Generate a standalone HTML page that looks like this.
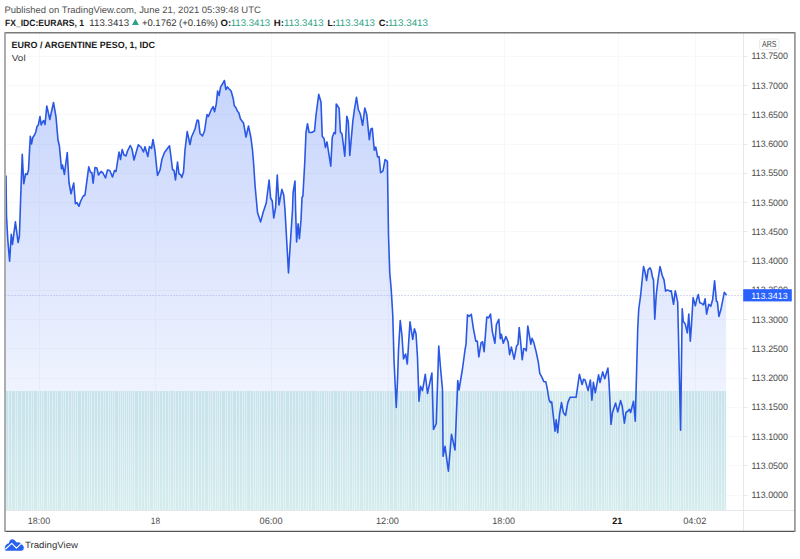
<!DOCTYPE html>
<html><head><meta charset="utf-8"><title>EURARS chart</title><style>html,body{margin:0;padding:0;background:#fff;}body{width:800px;height:559px;overflow:hidden;position:relative;}</style></head><body>
<svg width="800" height="559" viewBox="0 0 800 559" text-rendering="geometricPrecision" style="position:absolute;left:0;top:0">
<defs>
<linearGradient id="ag" x1="0" y1="80" x2="0" y2="510" gradientUnits="userSpaceOnUse"><stop offset="0" stop-color="#2f62f5" stop-opacity="0.27"/><stop offset="1" stop-color="#2f62f5" stop-opacity="0"/></linearGradient>
<clipPath id="pane"><rect x="5.6" y="33.4" width="737.9" height="477.1"/></clipPath>
</defs>
<rect x="0" y="0" width="800" height="559" fill="#fff"/>
<g stroke="#f7f8fa" stroke-width="1">
<line x1="726.1" y1="495.5" x2="743.5" y2="495.5"/>
<line x1="726.1" y1="465.5" x2="743.5" y2="465.5"/>
<line x1="726.1" y1="436.5" x2="743.5" y2="436.5"/>
<line x1="726.1" y1="407.5" x2="743.5" y2="407.5"/>
<line x1="5.6" y1="378.5" x2="743.5" y2="378.5"/>
<line x1="5.6" y1="348.5" x2="743.5" y2="348.5"/>
<line x1="5.6" y1="319.5" x2="743.5" y2="319.5"/>
<line x1="5.6" y1="290.5" x2="743.5" y2="290.5"/>
<line x1="5.6" y1="261.5" x2="743.5" y2="261.5"/>
<line x1="5.6" y1="231.5" x2="743.5" y2="231.5"/>
<line x1="5.6" y1="202.5" x2="743.5" y2="202.5"/>
<line x1="5.6" y1="173.5" x2="743.5" y2="173.5"/>
<line x1="5.6" y1="144.5" x2="743.5" y2="144.5"/>
<line x1="5.6" y1="114.5" x2="743.5" y2="114.5"/>
<line x1="5.6" y1="85.5" x2="743.5" y2="85.5"/>
<line x1="5.6" y1="56.5" x2="743.5" y2="56.5"/>
<line x1="39.5" y1="33.4" x2="39.5" y2="391.0"/>
<line x1="155.5" y1="33.4" x2="155.5" y2="391.0"/>
<line x1="271.5" y1="33.4" x2="271.5" y2="391.0"/>
<line x1="388.5" y1="33.4" x2="388.5" y2="391.0"/>
<line x1="504.5" y1="33.4" x2="504.5" y2="391.0"/>
<line x1="618.5" y1="33.4" x2="618.5" y2="391.0"/>
<line x1="695.5" y1="33.4" x2="695.5" y2="391.0"/>
</g>
<g clip-path="url(#pane)">
<path d="M6.00,176.00 L6.50,216.00 L7.80,240.00 L9.60,261.25 L11.25,234.40 L12.50,244.40 L15.40,221.90 L18.10,242.50 L19.40,236.00 L20.60,200.00 L22.25,154.40 L23.75,183.75 L25.60,173.75 L27.25,174.40 L28.50,170.00 L30.30,136.20 L31.50,144.00 L32.80,137.50 L34.50,135.00 L35.80,132.00 L37.00,126.50 L38.30,125.00 L40.00,116.50 L41.20,125.00 L42.50,122.00 L43.70,120.50 L45.00,124.50 L46.80,106.00 L49.80,119.50 L53.50,102.50 L56.00,117.00 L58.00,140.00 L59.40,146.00 L61.50,168.75 L62.50,165.00 L64.40,174.40 L67.25,152.50 L69.00,182.50 L71.00,193.75 L73.75,183.00 L75.40,203.75 L76.90,202.50 L79.00,206.25 L80.60,201.25 L83.10,196.25 L85.00,195.00 L88.75,166.90 L90.60,172.50 L91.90,172.50 L93.10,183.10 L95.00,167.50 L96.90,168.00 L98.50,175.00 L101.00,171.50 L103.00,173.00 L105.50,178.00 L107.50,170.00 L109.80,170.50 L112.50,177.00 L114.50,170.50 L116.00,171.50 L119.00,152.00 L120.50,159.50 L122.20,149.50 L124.00,155.00 L126.00,156.00 L127.50,151.00 L130.20,145.50 L132.00,149.00 L134.00,160.00 L136.00,153.00 L138.30,144.80 L141.00,147.00 L143.50,152.00 L145.00,146.80 L147.80,156.50 L149.50,146.50 L151.50,148.50 L153.00,139.50 L155.00,151.00 L157.50,175.50 L160.00,170.00 L162.00,159.00 L164.50,152.50 L169.50,145.80 L171.00,157.00 L172.50,169.50 L174.00,170.50 L175.50,180.00 L177.50,162.00 L179.00,174.00 L180.50,174.50 L181.80,177.50 L183.50,172.00 L185.00,150.00 L187.20,131.50 L190.00,144.50 L191.50,137.00 L195.00,129.00 L197.20,120.00 L198.50,120.50 L200.00,133.50 L202.50,136.00 L204.50,131.00 L207.00,114.50 L208.40,116.50 L211.00,110.20 L213.10,106.60 L214.60,111.70 L216.30,103.80 L217.60,91.00 L219.10,95.50 L220.60,86.90 L222.30,84.30 L224.40,80.50 L225.90,89.50 L227.40,86.90 L229.00,88.80 L231.10,91.00 L233.20,98.50 L234.30,105.70 L235.80,107.50 L237.30,110.90 L238.80,112.80 L240.50,119.00 L243.50,123.00 L246.00,137.00 L248.50,126.00 L251.00,138.00 L252.50,150.00 L253.80,166.00 L255.00,185.00 L257.50,212.50 L260.60,221.90 L263.10,212.50 L266.25,203.00 L269.10,180.00 L270.60,198.00 L272.25,201.00 L273.75,218.00 L275.60,207.50 L277.25,175.00 L279.00,205.00 L281.90,189.40 L283.75,195.00 L285.00,210.00 L288.50,273.00 L289.40,257.50 L292.50,210.00 L293.10,192.50 L295.00,181.00 L295.60,210.00 L296.60,242.00 L298.10,223.75 L299.40,238.75 L301.00,220.00 L302.00,197.50 L302.90,196.00 L304.75,162.50 L306.00,132.50 L307.50,123.75 L309.10,132.50 L311.60,132.50 L314.50,131.00 L316.00,115.00 L318.75,94.40 L321.00,101.90 L322.25,136.25 L324.10,138.75 L325.40,147.50 L327.00,141.90 L330.75,166.25 L332.25,137.50 L334.10,132.50 L335.40,133.75 L336.25,104.00 L339.10,108.10 L340.40,131.90 L342.00,134.00 L344.80,156.20 L346.80,116.30 L348.30,121.60 L349.80,155.40 L352.80,121.60 L354.30,110.30 L356.50,97.20 L358.30,109.50 L360.30,114.00 L362.60,125.30 L364.80,108.00 L366.80,114.80 L369.30,139.60 L370.80,129.10 L372.30,128.30 L374.30,150.20 L375.80,147.10 L377.60,156.90 L379.10,156.90 L380.60,172.70 L382.90,171.20 L385.10,159.50 L387.40,161.40 L388.50,235.00 L389.75,272.50 L391.25,290.00 L392.75,315.00 L394.00,360.00 L396.25,407.50 L397.50,381.00 L398.50,350.00 L400.25,320.60 L401.90,335.00 L403.50,359.00 L405.60,354.00 L407.30,364.00 L408.50,345.00 L410.00,321.90 L411.25,330.00 L412.75,339.40 L414.40,328.75 L416.00,333.75 L417.50,357.50 L419.00,401.25 L420.60,386.25 L422.50,390.60 L425.25,374.40 L427.50,393.50 L429.75,383.00 L431.90,373.00 L433.50,429.40 L436.25,423.75 L438.75,346.00 L440.60,368.75 L442.50,390.00 L443.10,456.25 L445.00,446.25 L448.40,471.25 L451.50,434.40 L455.00,450.00 L457.75,380.60 L459.00,390.00 L462.50,368.75 L465.00,350.00 L466.00,344.10 L467.50,314.80 L469.00,316.30 L471.30,314.30 L473.50,329.10 L475.80,341.10 L477.30,341.10 L478.80,356.90 L481.10,342.60 L482.60,341.80 L484.10,351.60 L486.80,317.00 L488.60,317.80 L490.50,314.00 L492.30,331.30 L494.90,343.30 L496.40,324.50 L498.80,319.30 L500.30,338.80 L501.40,334.30 L503.30,343.30 L505.90,336.60 L508.10,341.80 L509.60,354.60 L511.40,347.10 L514.10,359.10 L516.50,346.30 L518.00,344.10 L519.20,327.50 L520.70,342.60 L522.20,359.80 L523.70,348.60 L525.50,349.30 L526.30,350.80 L527.80,326.00 L529.30,335.00 L530.80,344.10 L532.00,338.30 L533.80,342.60 L536.10,351.60 L538.30,362.10 L539.80,373.40 L541.80,377.10 L543.90,381.70 L545.80,381.70 L547.50,390.00 L549.00,399.60 L550.50,402.60 L551.70,401.80 L553.50,417.60 L555.00,431.20 L556.20,419.90 L557.70,432.70 L559.50,414.60 L561.50,402.60 L563.30,412.40 L565.60,415.40 L567.80,402.60 L570.10,397.30 L576.10,397.30 L579.40,374.30 L582.10,384.50 L583.60,379.30 L585.10,380.00 L588.10,390.60 L590.40,380.00 L591.90,400.30 L593.40,382.30 L595.30,392.80 L598.60,374.80 L600.00,382.50 L602.75,371.90 L604.75,378.75 L607.90,368.10 L609.00,381.90 L611.00,424.40 L612.50,412.50 L615.60,403.10 L617.75,411.90 L620.60,400.60 L622.25,406.25 L624.40,423.10 L626.00,412.50 L627.75,411.25 L629.40,409.40 L630.60,412.50 L633.50,401.25 L635.25,421.25 L636.90,360.00 L637.75,328.00 L638.75,309.25 L640.60,295.50 L643.50,266.50 L645.00,271.75 L646.60,280.50 L648.10,269.90 L650.00,267.75 L651.25,270.50 L652.50,277.40 L653.50,279.90 L654.75,319.25 L656.25,294.90 L658.10,279.25 L660.00,266.50 L662.25,275.50 L664.00,279.90 L665.60,291.10 L667.50,289.90 L669.75,291.10 L671.25,290.75 L673.50,304.30 L675.30,290.80 L677.70,302.10 L680.60,430.30 L682.20,308.80 L683.30,321.60 L685.20,323.90 L687.30,332.90 L688.80,314.10 L690.30,341.20 L691.50,324.60 L693.10,297.60 L695.30,305.80 L696.80,299.10 L698.30,294.60 L699.80,302.80 L701.80,303.60 L703.60,304.80 L705.10,298.80 L706.60,314.10 L708.80,304.30 L710.80,306.30 L712.60,299.80 L714.60,280.70 L716.40,301.30 L717.40,301.80 L718.90,316.40 L720.90,309.60 L724.30,292.30 L726.10,294.60 L726.10,510.5 L6.00,510.5 Z" fill="url(#ag)"/>
<rect x="6.00" y="391.0" width="720.10" height="119.5" fill="#2aa2a4" fill-opacity="0.2"/>
<g fill="#ffffff" fill-opacity="0.4"><rect x="8" y="391.0" width="1" height="119.5"/><rect x="11" y="391.0" width="1" height="119.5"/><rect x="15" y="391.0" width="1" height="119.5"/><rect x="17" y="391.0" width="1" height="119.5"/><rect x="21" y="391.0" width="1" height="119.5"/><rect x="25" y="391.0" width="1" height="119.5"/><rect x="28" y="391.0" width="1" height="119.5"/><rect x="31" y="391.0" width="1" height="119.5"/><rect x="33" y="391.0" width="1" height="119.5"/><rect x="37" y="391.0" width="1" height="119.5"/><rect x="39" y="391.0" width="1" height="119.5"/><rect x="41" y="391.0" width="1" height="119.5"/><rect x="43" y="391.0" width="1" height="119.5"/><rect x="47" y="391.0" width="1" height="119.5"/><rect x="49" y="391.0" width="1" height="119.5"/><rect x="52" y="391.0" width="1" height="119.5"/><rect x="55" y="391.0" width="1" height="119.5"/><rect x="57" y="391.0" width="1" height="119.5"/><rect x="61" y="391.0" width="1" height="119.5"/><rect x="63" y="391.0" width="1" height="119.5"/><rect x="65" y="391.0" width="1" height="119.5"/><rect x="68" y="391.0" width="1" height="119.5"/><rect x="71" y="391.0" width="1" height="119.5"/><rect x="73" y="391.0" width="1" height="119.5"/><rect x="75" y="391.0" width="1" height="119.5"/><rect x="77" y="391.0" width="1" height="119.5"/><rect x="81" y="391.0" width="1" height="119.5"/><rect x="84" y="391.0" width="1" height="119.5"/><rect x="87" y="391.0" width="1" height="119.5"/><rect x="89" y="391.0" width="1" height="119.5"/><rect x="91" y="391.0" width="1" height="119.5"/><rect x="94" y="391.0" width="1" height="119.5"/><rect x="97" y="391.0" width="1" height="119.5"/><rect x="100" y="391.0" width="1" height="119.5"/><rect x="103" y="391.0" width="1" height="119.5"/><rect x="105" y="391.0" width="1" height="119.5"/><rect x="108" y="391.0" width="1" height="119.5"/><rect x="110" y="391.0" width="1" height="119.5"/><rect x="112" y="391.0" width="1" height="119.5"/><rect x="114" y="391.0" width="1" height="119.5"/><rect x="118" y="391.0" width="1" height="119.5"/><rect x="120" y="391.0" width="1" height="119.5"/><rect x="122" y="391.0" width="1" height="119.5"/><rect x="124" y="391.0" width="1" height="119.5"/><rect x="126" y="391.0" width="1" height="119.5"/><rect x="128" y="391.0" width="1" height="119.5"/><rect x="130" y="391.0" width="1" height="119.5"/><rect x="132" y="391.0" width="1" height="119.5"/><rect x="134" y="391.0" width="1" height="119.5"/><rect x="138" y="391.0" width="1" height="119.5"/><rect x="141" y="391.0" width="1" height="119.5"/><rect x="144" y="391.0" width="1" height="119.5"/><rect x="147" y="391.0" width="1" height="119.5"/><rect x="149" y="391.0" width="1" height="119.5"/><rect x="153" y="391.0" width="1" height="119.5"/><rect x="155" y="391.0" width="1" height="119.5"/><rect x="157" y="391.0" width="1" height="119.5"/><rect x="159" y="391.0" width="1" height="119.5"/><rect x="162" y="391.0" width="1" height="119.5"/><rect x="165" y="391.0" width="1" height="119.5"/><rect x="168" y="391.0" width="1" height="119.5"/><rect x="170" y="391.0" width="1" height="119.5"/><rect x="173" y="391.0" width="1" height="119.5"/><rect x="175" y="391.0" width="1" height="119.5"/><rect x="178" y="391.0" width="1" height="119.5"/><rect x="181" y="391.0" width="1" height="119.5"/><rect x="184" y="391.0" width="1" height="119.5"/><rect x="187" y="391.0" width="1" height="119.5"/><rect x="189" y="391.0" width="1" height="119.5"/><rect x="193" y="391.0" width="1" height="119.5"/><rect x="195" y="391.0" width="1" height="119.5"/><rect x="198" y="391.0" width="1" height="119.5"/><rect x="201" y="391.0" width="1" height="119.5"/><rect x="204" y="391.0" width="1" height="119.5"/><rect x="208" y="391.0" width="1" height="119.5"/><rect x="210" y="391.0" width="1" height="119.5"/><rect x="212" y="391.0" width="1" height="119.5"/><rect x="215" y="391.0" width="1" height="119.5"/><rect x="217" y="391.0" width="1" height="119.5"/><rect x="219" y="391.0" width="1" height="119.5"/><rect x="221" y="391.0" width="1" height="119.5"/><rect x="225" y="391.0" width="1" height="119.5"/><rect x="227" y="391.0" width="1" height="119.5"/><rect x="230" y="391.0" width="1" height="119.5"/><rect x="232" y="391.0" width="1" height="119.5"/><rect x="236" y="391.0" width="1" height="119.5"/><rect x="239" y="391.0" width="1" height="119.5"/><rect x="242" y="391.0" width="1" height="119.5"/><rect x="244" y="391.0" width="1" height="119.5"/><rect x="246" y="391.0" width="1" height="119.5"/><rect x="250" y="391.0" width="1" height="119.5"/><rect x="253" y="391.0" width="1" height="119.5"/><rect x="255" y="391.0" width="1" height="119.5"/><rect x="257" y="391.0" width="1" height="119.5"/><rect x="259" y="391.0" width="1" height="119.5"/><rect x="261" y="391.0" width="1" height="119.5"/><rect x="264" y="391.0" width="1" height="119.5"/><rect x="267" y="391.0" width="1" height="119.5"/><rect x="270" y="391.0" width="1" height="119.5"/><rect x="273" y="391.0" width="1" height="119.5"/><rect x="276" y="391.0" width="1" height="119.5"/><rect x="278" y="391.0" width="1" height="119.5"/><rect x="280" y="391.0" width="1" height="119.5"/><rect x="283" y="391.0" width="1" height="119.5"/><rect x="285" y="391.0" width="1" height="119.5"/><rect x="289" y="391.0" width="1" height="119.5"/><rect x="292" y="391.0" width="1" height="119.5"/><rect x="295" y="391.0" width="1" height="119.5"/><rect x="298" y="391.0" width="1" height="119.5"/><rect x="300" y="391.0" width="1" height="119.5"/><rect x="303" y="391.0" width="1" height="119.5"/><rect x="306" y="391.0" width="1" height="119.5"/><rect x="308" y="391.0" width="1" height="119.5"/><rect x="311" y="391.0" width="1" height="119.5"/><rect x="315" y="391.0" width="1" height="119.5"/><rect x="317" y="391.0" width="1" height="119.5"/><rect x="319" y="391.0" width="1" height="119.5"/><rect x="321" y="391.0" width="1" height="119.5"/><rect x="324" y="391.0" width="1" height="119.5"/><rect x="326" y="391.0" width="1" height="119.5"/><rect x="328" y="391.0" width="1" height="119.5"/><rect x="330" y="391.0" width="1" height="119.5"/><rect x="333" y="391.0" width="1" height="119.5"/><rect x="337" y="391.0" width="1" height="119.5"/><rect x="340" y="391.0" width="1" height="119.5"/><rect x="342" y="391.0" width="1" height="119.5"/><rect x="345" y="391.0" width="1" height="119.5"/><rect x="347" y="391.0" width="1" height="119.5"/><rect x="349" y="391.0" width="1" height="119.5"/><rect x="352" y="391.0" width="1" height="119.5"/><rect x="354" y="391.0" width="1" height="119.5"/><rect x="356" y="391.0" width="1" height="119.5"/><rect x="359" y="391.0" width="1" height="119.5"/><rect x="363" y="391.0" width="1" height="119.5"/><rect x="365" y="391.0" width="1" height="119.5"/><rect x="368" y="391.0" width="1" height="119.5"/><rect x="371" y="391.0" width="1" height="119.5"/><rect x="374" y="391.0" width="1" height="119.5"/><rect x="376" y="391.0" width="1" height="119.5"/><rect x="379" y="391.0" width="1" height="119.5"/><rect x="382" y="391.0" width="1" height="119.5"/><rect x="384" y="391.0" width="1" height="119.5"/><rect x="386" y="391.0" width="1" height="119.5"/><rect x="389" y="391.0" width="1" height="119.5"/><rect x="393" y="391.0" width="1" height="119.5"/><rect x="397" y="391.0" width="1" height="119.5"/><rect x="399" y="391.0" width="1" height="119.5"/><rect x="402" y="391.0" width="1" height="119.5"/><rect x="404" y="391.0" width="1" height="119.5"/><rect x="406" y="391.0" width="1" height="119.5"/><rect x="408" y="391.0" width="1" height="119.5"/><rect x="411" y="391.0" width="1" height="119.5"/><rect x="415" y="391.0" width="1" height="119.5"/><rect x="417" y="391.0" width="1" height="119.5"/><rect x="420" y="391.0" width="1" height="119.5"/><rect x="422" y="391.0" width="1" height="119.5"/><rect x="424" y="391.0" width="1" height="119.5"/><rect x="426" y="391.0" width="1" height="119.5"/><rect x="428" y="391.0" width="1" height="119.5"/><rect x="430" y="391.0" width="1" height="119.5"/><rect x="433" y="391.0" width="1" height="119.5"/><rect x="436" y="391.0" width="1" height="119.5"/><rect x="438" y="391.0" width="1" height="119.5"/><rect x="442" y="391.0" width="1" height="119.5"/><rect x="444" y="391.0" width="1" height="119.5"/><rect x="447" y="391.0" width="1" height="119.5"/><rect x="451" y="391.0" width="1" height="119.5"/><rect x="454" y="391.0" width="1" height="119.5"/><rect x="457" y="391.0" width="1" height="119.5"/><rect x="459" y="391.0" width="1" height="119.5"/><rect x="461" y="391.0" width="1" height="119.5"/><rect x="463" y="391.0" width="1" height="119.5"/><rect x="465" y="391.0" width="1" height="119.5"/><rect x="467" y="391.0" width="1" height="119.5"/><rect x="470" y="391.0" width="1" height="119.5"/><rect x="472" y="391.0" width="1" height="119.5"/><rect x="474" y="391.0" width="1" height="119.5"/><rect x="476" y="391.0" width="1" height="119.5"/><rect x="479" y="391.0" width="1" height="119.5"/><rect x="482" y="391.0" width="1" height="119.5"/><rect x="484" y="391.0" width="1" height="119.5"/><rect x="487" y="391.0" width="1" height="119.5"/><rect x="489" y="391.0" width="1" height="119.5"/><rect x="491" y="391.0" width="1" height="119.5"/><rect x="494" y="391.0" width="1" height="119.5"/><rect x="498" y="391.0" width="1" height="119.5"/><rect x="500" y="391.0" width="1" height="119.5"/><rect x="502" y="391.0" width="1" height="119.5"/><rect x="506" y="391.0" width="1" height="119.5"/><rect x="509" y="391.0" width="1" height="119.5"/><rect x="511" y="391.0" width="1" height="119.5"/><rect x="514" y="391.0" width="1" height="119.5"/><rect x="516" y="391.0" width="1" height="119.5"/><rect x="519" y="391.0" width="1" height="119.5"/><rect x="521" y="391.0" width="1" height="119.5"/><rect x="525" y="391.0" width="1" height="119.5"/><rect x="527" y="391.0" width="1" height="119.5"/><rect x="529" y="391.0" width="1" height="119.5"/><rect x="532" y="391.0" width="1" height="119.5"/><rect x="534" y="391.0" width="1" height="119.5"/><rect x="536" y="391.0" width="1" height="119.5"/><rect x="539" y="391.0" width="1" height="119.5"/><rect x="542" y="391.0" width="1" height="119.5"/><rect x="544" y="391.0" width="1" height="119.5"/><rect x="546" y="391.0" width="1" height="119.5"/><rect x="549" y="391.0" width="1" height="119.5"/><rect x="552" y="391.0" width="1" height="119.5"/><rect x="555" y="391.0" width="1" height="119.5"/><rect x="557" y="391.0" width="1" height="119.5"/><rect x="559" y="391.0" width="1" height="119.5"/><rect x="562" y="391.0" width="1" height="119.5"/><rect x="564" y="391.0" width="1" height="119.5"/><rect x="566" y="391.0" width="1" height="119.5"/><rect x="568" y="391.0" width="1" height="119.5"/><rect x="570" y="391.0" width="1" height="119.5"/><rect x="572" y="391.0" width="1" height="119.5"/><rect x="575" y="391.0" width="1" height="119.5"/><rect x="577" y="391.0" width="1" height="119.5"/><rect x="580" y="391.0" width="1" height="119.5"/><rect x="583" y="391.0" width="1" height="119.5"/><rect x="586" y="391.0" width="1" height="119.5"/><rect x="589" y="391.0" width="1" height="119.5"/><rect x="592" y="391.0" width="1" height="119.5"/><rect x="596" y="391.0" width="1" height="119.5"/><rect x="598" y="391.0" width="1" height="119.5"/><rect x="601" y="391.0" width="1" height="119.5"/><rect x="604" y="391.0" width="1" height="119.5"/><rect x="606" y="391.0" width="1" height="119.5"/><rect x="608" y="391.0" width="1" height="119.5"/><rect x="611" y="391.0" width="1" height="119.5"/><rect x="613" y="391.0" width="1" height="119.5"/><rect x="615" y="391.0" width="1" height="119.5"/><rect x="617" y="391.0" width="1" height="119.5"/><rect x="620" y="391.0" width="1" height="119.5"/><rect x="622" y="391.0" width="1" height="119.5"/><rect x="625" y="391.0" width="1" height="119.5"/><rect x="629" y="391.0" width="1" height="119.5"/><rect x="631" y="391.0" width="1" height="119.5"/><rect x="633" y="391.0" width="1" height="119.5"/><rect x="635" y="391.0" width="1" height="119.5"/><rect x="638" y="391.0" width="1" height="119.5"/><rect x="640" y="391.0" width="1" height="119.5"/><rect x="642" y="391.0" width="1" height="119.5"/><rect x="645" y="391.0" width="1" height="119.5"/><rect x="647" y="391.0" width="1" height="119.5"/><rect x="649" y="391.0" width="1" height="119.5"/><rect x="652" y="391.0" width="1" height="119.5"/><rect x="655" y="391.0" width="1" height="119.5"/><rect x="658" y="391.0" width="1" height="119.5"/><rect x="660" y="391.0" width="1" height="119.5"/><rect x="662" y="391.0" width="1" height="119.5"/><rect x="664" y="391.0" width="1" height="119.5"/><rect x="666" y="391.0" width="1" height="119.5"/><rect x="669" y="391.0" width="1" height="119.5"/><rect x="672" y="391.0" width="1" height="119.5"/><rect x="674" y="391.0" width="1" height="119.5"/><rect x="676" y="391.0" width="1" height="119.5"/><rect x="678" y="391.0" width="1" height="119.5"/><rect x="680" y="391.0" width="1" height="119.5"/><rect x="683" y="391.0" width="1" height="119.5"/><rect x="685" y="391.0" width="1" height="119.5"/><rect x="688" y="391.0" width="1" height="119.5"/><rect x="691" y="391.0" width="1" height="119.5"/><rect x="694" y="391.0" width="1" height="119.5"/><rect x="697" y="391.0" width="1" height="119.5"/><rect x="700" y="391.0" width="1" height="119.5"/><rect x="702" y="391.0" width="1" height="119.5"/><rect x="704" y="391.0" width="1" height="119.5"/><rect x="706" y="391.0" width="1" height="119.5"/><rect x="708" y="391.0" width="1" height="119.5"/><rect x="710" y="391.0" width="1" height="119.5"/><rect x="712" y="391.0" width="1" height="119.5"/><rect x="715" y="391.0" width="1" height="119.5"/><rect x="718" y="391.0" width="1" height="119.5"/><rect x="721" y="391.0" width="1" height="119.5"/><rect x="724" y="391.0" width="1" height="119.5"/></g>
<line x1="5.6" y1="295.5" x2="743.5" y2="295.5" stroke="#8a9ad8" stroke-width="1" stroke-dasharray="1,2" opacity="0.7"/>
<path d="M6.00,176.00 L6.50,216.00 L7.80,240.00 L9.60,261.25 L11.25,234.40 L12.50,244.40 L15.40,221.90 L18.10,242.50 L19.40,236.00 L20.60,200.00 L22.25,154.40 L23.75,183.75 L25.60,173.75 L27.25,174.40 L28.50,170.00 L30.30,136.20 L31.50,144.00 L32.80,137.50 L34.50,135.00 L35.80,132.00 L37.00,126.50 L38.30,125.00 L40.00,116.50 L41.20,125.00 L42.50,122.00 L43.70,120.50 L45.00,124.50 L46.80,106.00 L49.80,119.50 L53.50,102.50 L56.00,117.00 L58.00,140.00 L59.40,146.00 L61.50,168.75 L62.50,165.00 L64.40,174.40 L67.25,152.50 L69.00,182.50 L71.00,193.75 L73.75,183.00 L75.40,203.75 L76.90,202.50 L79.00,206.25 L80.60,201.25 L83.10,196.25 L85.00,195.00 L88.75,166.90 L90.60,172.50 L91.90,172.50 L93.10,183.10 L95.00,167.50 L96.90,168.00 L98.50,175.00 L101.00,171.50 L103.00,173.00 L105.50,178.00 L107.50,170.00 L109.80,170.50 L112.50,177.00 L114.50,170.50 L116.00,171.50 L119.00,152.00 L120.50,159.50 L122.20,149.50 L124.00,155.00 L126.00,156.00 L127.50,151.00 L130.20,145.50 L132.00,149.00 L134.00,160.00 L136.00,153.00 L138.30,144.80 L141.00,147.00 L143.50,152.00 L145.00,146.80 L147.80,156.50 L149.50,146.50 L151.50,148.50 L153.00,139.50 L155.00,151.00 L157.50,175.50 L160.00,170.00 L162.00,159.00 L164.50,152.50 L169.50,145.80 L171.00,157.00 L172.50,169.50 L174.00,170.50 L175.50,180.00 L177.50,162.00 L179.00,174.00 L180.50,174.50 L181.80,177.50 L183.50,172.00 L185.00,150.00 L187.20,131.50 L190.00,144.50 L191.50,137.00 L195.00,129.00 L197.20,120.00 L198.50,120.50 L200.00,133.50 L202.50,136.00 L204.50,131.00 L207.00,114.50 L208.40,116.50 L211.00,110.20 L213.10,106.60 L214.60,111.70 L216.30,103.80 L217.60,91.00 L219.10,95.50 L220.60,86.90 L222.30,84.30 L224.40,80.50 L225.90,89.50 L227.40,86.90 L229.00,88.80 L231.10,91.00 L233.20,98.50 L234.30,105.70 L235.80,107.50 L237.30,110.90 L238.80,112.80 L240.50,119.00 L243.50,123.00 L246.00,137.00 L248.50,126.00 L251.00,138.00 L252.50,150.00 L253.80,166.00 L255.00,185.00 L257.50,212.50 L260.60,221.90 L263.10,212.50 L266.25,203.00 L269.10,180.00 L270.60,198.00 L272.25,201.00 L273.75,218.00 L275.60,207.50 L277.25,175.00 L279.00,205.00 L281.90,189.40 L283.75,195.00 L285.00,210.00 L288.50,273.00 L289.40,257.50 L292.50,210.00 L293.10,192.50 L295.00,181.00 L295.60,210.00 L296.60,242.00 L298.10,223.75 L299.40,238.75 L301.00,220.00 L302.00,197.50 L302.90,196.00 L304.75,162.50 L306.00,132.50 L307.50,123.75 L309.10,132.50 L311.60,132.50 L314.50,131.00 L316.00,115.00 L318.75,94.40 L321.00,101.90 L322.25,136.25 L324.10,138.75 L325.40,147.50 L327.00,141.90 L330.75,166.25 L332.25,137.50 L334.10,132.50 L335.40,133.75 L336.25,104.00 L339.10,108.10 L340.40,131.90 L342.00,134.00 L344.80,156.20 L346.80,116.30 L348.30,121.60 L349.80,155.40 L352.80,121.60 L354.30,110.30 L356.50,97.20 L358.30,109.50 L360.30,114.00 L362.60,125.30 L364.80,108.00 L366.80,114.80 L369.30,139.60 L370.80,129.10 L372.30,128.30 L374.30,150.20 L375.80,147.10 L377.60,156.90 L379.10,156.90 L380.60,172.70 L382.90,171.20 L385.10,159.50 L387.40,161.40 L388.50,235.00 L389.75,272.50 L391.25,290.00 L392.75,315.00 L394.00,360.00 L396.25,407.50 L397.50,381.00 L398.50,350.00 L400.25,320.60 L401.90,335.00 L403.50,359.00 L405.60,354.00 L407.30,364.00 L408.50,345.00 L410.00,321.90 L411.25,330.00 L412.75,339.40 L414.40,328.75 L416.00,333.75 L417.50,357.50 L419.00,401.25 L420.60,386.25 L422.50,390.60 L425.25,374.40 L427.50,393.50 L429.75,383.00 L431.90,373.00 L433.50,429.40 L436.25,423.75 L438.75,346.00 L440.60,368.75 L442.50,390.00 L443.10,456.25 L445.00,446.25 L448.40,471.25 L451.50,434.40 L455.00,450.00 L457.75,380.60 L459.00,390.00 L462.50,368.75 L465.00,350.00 L466.00,344.10 L467.50,314.80 L469.00,316.30 L471.30,314.30 L473.50,329.10 L475.80,341.10 L477.30,341.10 L478.80,356.90 L481.10,342.60 L482.60,341.80 L484.10,351.60 L486.80,317.00 L488.60,317.80 L490.50,314.00 L492.30,331.30 L494.90,343.30 L496.40,324.50 L498.80,319.30 L500.30,338.80 L501.40,334.30 L503.30,343.30 L505.90,336.60 L508.10,341.80 L509.60,354.60 L511.40,347.10 L514.10,359.10 L516.50,346.30 L518.00,344.10 L519.20,327.50 L520.70,342.60 L522.20,359.80 L523.70,348.60 L525.50,349.30 L526.30,350.80 L527.80,326.00 L529.30,335.00 L530.80,344.10 L532.00,338.30 L533.80,342.60 L536.10,351.60 L538.30,362.10 L539.80,373.40 L541.80,377.10 L543.90,381.70 L545.80,381.70 L547.50,390.00 L549.00,399.60 L550.50,402.60 L551.70,401.80 L553.50,417.60 L555.00,431.20 L556.20,419.90 L557.70,432.70 L559.50,414.60 L561.50,402.60 L563.30,412.40 L565.60,415.40 L567.80,402.60 L570.10,397.30 L576.10,397.30 L579.40,374.30 L582.10,384.50 L583.60,379.30 L585.10,380.00 L588.10,390.60 L590.40,380.00 L591.90,400.30 L593.40,382.30 L595.30,392.80 L598.60,374.80 L600.00,382.50 L602.75,371.90 L604.75,378.75 L607.90,368.10 L609.00,381.90 L611.00,424.40 L612.50,412.50 L615.60,403.10 L617.75,411.90 L620.60,400.60 L622.25,406.25 L624.40,423.10 L626.00,412.50 L627.75,411.25 L629.40,409.40 L630.60,412.50 L633.50,401.25 L635.25,421.25 L636.90,360.00 L637.75,328.00 L638.75,309.25 L640.60,295.50 L643.50,266.50 L645.00,271.75 L646.60,280.50 L648.10,269.90 L650.00,267.75 L651.25,270.50 L652.50,277.40 L653.50,279.90 L654.75,319.25 L656.25,294.90 L658.10,279.25 L660.00,266.50 L662.25,275.50 L664.00,279.90 L665.60,291.10 L667.50,289.90 L669.75,291.10 L671.25,290.75 L673.50,304.30 L675.30,290.80 L677.70,302.10 L680.60,430.30 L682.20,308.80 L683.30,321.60 L685.20,323.90 L687.30,332.90 L688.80,314.10 L690.30,341.20 L691.50,324.60 L693.10,297.60 L695.30,305.80 L696.80,299.10 L698.30,294.60 L699.80,302.80 L701.80,303.60 L703.60,304.80 L705.10,298.80 L706.60,314.10 L708.80,304.30 L710.80,306.30 L712.60,299.80 L714.60,280.70 L716.40,301.30 L717.40,301.80 L718.90,316.40 L720.90,309.60 L724.30,292.30 L726.10,294.60" fill="none" stroke="#2a58e4" stroke-width="1.6" stroke-linejoin="round" stroke-linecap="round"/>
</g>
<line x1="743.5" y1="33" x2="743.5" y2="531" stroke="#e6e7ea" stroke-width="1"/>
<line x1="5" y1="510.5" x2="795" y2="510.5" stroke="#e6e7ea" stroke-width="1"/>
<g font-family="'Liberation Sans', Arial, sans-serif" font-size="9.3" fill="#4a4a4a" >
<line x1="743.5" y1="495.5" x2="747.5" y2="495.5" stroke="#e6e8ee"/>
<text x="751.6" y="498.00" textLength="36.3" lengthAdjust="spacingAndGlyphs">113.0000</text>
<line x1="743.5" y1="465.5" x2="747.5" y2="465.5" stroke="#e6e8ee"/>
<text x="751.6" y="468.75" textLength="36.3" lengthAdjust="spacingAndGlyphs">113.0500</text>
<line x1="743.5" y1="436.5" x2="747.5" y2="436.5" stroke="#e6e8ee"/>
<text x="751.6" y="439.50" textLength="36.3" lengthAdjust="spacingAndGlyphs">113.1000</text>
<line x1="743.5" y1="407.5" x2="747.5" y2="407.5" stroke="#e6e8ee"/>
<text x="751.6" y="410.25" textLength="36.3" lengthAdjust="spacingAndGlyphs">113.1500</text>
<line x1="743.5" y1="378.5" x2="747.5" y2="378.5" stroke="#e6e8ee"/>
<text x="751.6" y="381.00" textLength="36.3" lengthAdjust="spacingAndGlyphs">113.2000</text>
<line x1="743.5" y1="348.5" x2="747.5" y2="348.5" stroke="#e6e8ee"/>
<text x="751.6" y="351.75" textLength="36.3" lengthAdjust="spacingAndGlyphs">113.2500</text>
<line x1="743.5" y1="319.5" x2="747.5" y2="319.5" stroke="#e6e8ee"/>
<text x="751.6" y="322.50" textLength="36.3" lengthAdjust="spacingAndGlyphs">113.3000</text>
<line x1="743.5" y1="290.5" x2="747.5" y2="290.5" stroke="#e6e8ee"/>
<text x="751.6" y="293.25" textLength="36.3" lengthAdjust="spacingAndGlyphs">113.3500</text>
<line x1="743.5" y1="261.5" x2="747.5" y2="261.5" stroke="#e6e8ee"/>
<text x="751.6" y="264.00" textLength="36.3" lengthAdjust="spacingAndGlyphs">113.4000</text>
<line x1="743.5" y1="231.5" x2="747.5" y2="231.5" stroke="#e6e8ee"/>
<text x="751.6" y="234.75" textLength="36.3" lengthAdjust="spacingAndGlyphs">113.4500</text>
<line x1="743.5" y1="202.5" x2="747.5" y2="202.5" stroke="#e6e8ee"/>
<text x="751.6" y="205.50" textLength="36.3" lengthAdjust="spacingAndGlyphs">113.5000</text>
<line x1="743.5" y1="173.5" x2="747.5" y2="173.5" stroke="#e6e8ee"/>
<text x="751.6" y="176.25" textLength="36.3" lengthAdjust="spacingAndGlyphs">113.5500</text>
<line x1="743.5" y1="144.5" x2="747.5" y2="144.5" stroke="#e6e8ee"/>
<text x="751.6" y="147.00" textLength="36.3" lengthAdjust="spacingAndGlyphs">113.6000</text>
<line x1="743.5" y1="114.5" x2="747.5" y2="114.5" stroke="#e6e8ee"/>
<text x="751.6" y="117.75" textLength="36.3" lengthAdjust="spacingAndGlyphs">113.6500</text>
<line x1="743.5" y1="85.5" x2="747.5" y2="85.5" stroke="#e6e8ee"/>
<text x="751.6" y="88.50" textLength="36.3" lengthAdjust="spacingAndGlyphs">113.7000</text>
<line x1="743.5" y1="56.5" x2="747.5" y2="56.5" stroke="#e6e8ee"/>
<text x="751.6" y="59.25" textLength="36.3" lengthAdjust="spacingAndGlyphs">113.7500</text>
</g>
<rect x="743.2" y="289.2" width="48.6" height="12.2" fill="#2962ff"/>
<text x="751.2" y="298.5" font-family="'Liberation Sans', Arial, sans-serif" font-size="9" fill="#fff" textLength="36.4" lengthAdjust="spacingAndGlyphs">113.3413</text>
<rect x="759.6" y="39" width="19.4" height="10.6" rx="1.5" fill="#fff" stroke="#e3e5ea" stroke-width="0.8"/>
<text x="761.9" y="46.9" font-family="'Liberation Sans', Arial, sans-serif" font-size="8.8" fill="#4a4a4a" textLength="14.6" lengthAdjust="spacingAndGlyphs">ARS</text>
<g font-family="'Liberation Sans', Arial, sans-serif" font-size="9.2" fill="#4a4a4a" text-anchor="middle">
<text x="38.95" y="523.9" textLength="22.3" lengthAdjust="spacingAndGlyphs">18:00</text>
<text x="155.5" y="523.9" textLength="9.3" lengthAdjust="spacingAndGlyphs">18</text>
<text x="271.1" y="523.9" textLength="23.0" lengthAdjust="spacingAndGlyphs">06:00</text>
<text x="387.45" y="523.9" textLength="22.9" lengthAdjust="spacingAndGlyphs">12:00</text>
<text x="503.65" y="523.9" textLength="22.6" lengthAdjust="spacingAndGlyphs">18:00</text>
<text x="617.35" y="523.9" font-weight="bold" fill="#111" textLength="10.0" lengthAdjust="spacingAndGlyphs">21</text>
<text x="694.75" y="523.9" textLength="23.2" lengthAdjust="spacingAndGlyphs">04:02</text>
</g>
<line x1="5" y1="32.7" x2="795" y2="32.7" stroke="#7a7a7a" stroke-width="1.5"/>
<line x1="5" y1="531.3" x2="795" y2="531.3" stroke="#555" stroke-width="1.3"/>
<line x1="5" y1="32" x2="5" y2="532" stroke="#999" stroke-width="1.6"/>
<line x1="794.9" y1="32" x2="794.9" y2="532" stroke="#888" stroke-width="1.5"/>
<text x="11.6" y="48.4" font-family="'Liberation Sans', Arial, sans-serif" font-size="9.1" font-weight="bold" fill="#1a1a1a" textLength="143.4" lengthAdjust="spacingAndGlyphs">EURO / ARGENTINE PESO, 1, IDC</text>
<text x="11.8" y="60.8" font-family="'Liberation Sans', Arial, sans-serif" font-size="8.9" fill="#3a3a3a" textLength="13.8" lengthAdjust="spacingAndGlyphs">Vol</text>
<text x="4.5" y="13" font-family="'Liberation Sans', Arial, sans-serif" font-size="9.3" fill="#505050" textLength="256.3" lengthAdjust="spacingAndGlyphs">Published on TradingView.com, June 21, 2021 05:39:48 UTC</text>
<g font-family="'Liberation Sans', Arial, sans-serif" font-size="9.5">
<text x="5" y="25.8" font-weight="bold" fill="#1a1a1a" font-size="9.2" textLength="79" lengthAdjust="spacingAndGlyphs">FX_IDC:EURARS, 1</text>
<text x="89.3" y="25.7" fill="#333" textLength="39.8" lengthAdjust="spacingAndGlyphs">113.3413</text>
<path d="M132,25 L135.45,18.7 L138.9,25 Z" fill="#2aa383"/>
<text x="141.9" y="25.7" fill="#333" textLength="76" lengthAdjust="spacingAndGlyphs">+0.1762 (+0.16%)</text>
<text x="220.5" y="25.8" font-weight="bold" font-size="9.2" fill="#1a1a1a" textLength="10.6" lengthAdjust="spacingAndGlyphs">O:</text>
<text x="230.7" y="25.7" fill="#2aa383" textLength="39.4" lengthAdjust="spacingAndGlyphs">113.3413</text>
<text x="273.8" y="25.8" font-weight="bold" font-size="9.2" fill="#1a1a1a" textLength="10.2" lengthAdjust="spacingAndGlyphs">H:</text>
<text x="284.1" y="25.7" fill="#2aa383" textLength="39.4" lengthAdjust="spacingAndGlyphs">113.3413</text>
<text x="327.4" y="25.8" font-weight="bold" font-size="9.2" fill="#1a1a1a" textLength="8.2" lengthAdjust="spacingAndGlyphs">L:</text>
<text x="335.2" y="25.7" fill="#2aa383" textLength="39.8" lengthAdjust="spacingAndGlyphs">113.3413</text>
<text x="378.8" y="25.8" font-weight="bold" font-size="9.2" fill="#1a1a1a" textLength="9.8" lengthAdjust="spacingAndGlyphs">C:</text>
<text x="387.9" y="25.7" fill="#2aa383" textLength="40.1" lengthAdjust="spacingAndGlyphs">113.3413</text>
</g>
<path d="M6.4,550.8 C5.2,550.8 4.7,549.6 4.8,548.2 C4.9,546.4 5.6,544.8 7.0,543.9 C7.6,543.5 8.3,543.4 8.9,543.3 C9.4,540.9 10.6,539.3 12.2,539.3 C13.7,539.3 14.8,540.1 15.6,541.2 C16.0,541.8 16.4,542.3 16.9,542.5 C17.6,542.2 18.4,542.1 19.2,542.4 C20.4,542.8 21.2,543.6 21.6,544.6 C22.9,545.0 23.8,546.2 23.8,547.7 C23.8,549.5 22.8,550.8 21.4,550.8 Z" fill="#2860f0"/>
<path d="M5.6,549.0 L11.8,543.4 L16.4,548.2 L20.8,543.8" fill="none" stroke="#fff" stroke-width="1.15" stroke-linejoin="round" stroke-linecap="round"/>
<text x="25" y="548" font-family="'Liberation Sans', Arial, sans-serif" font-size="9.1" fill="#333" textLength="53" lengthAdjust="spacingAndGlyphs">TradingView</text>
</svg>
</body></html>
